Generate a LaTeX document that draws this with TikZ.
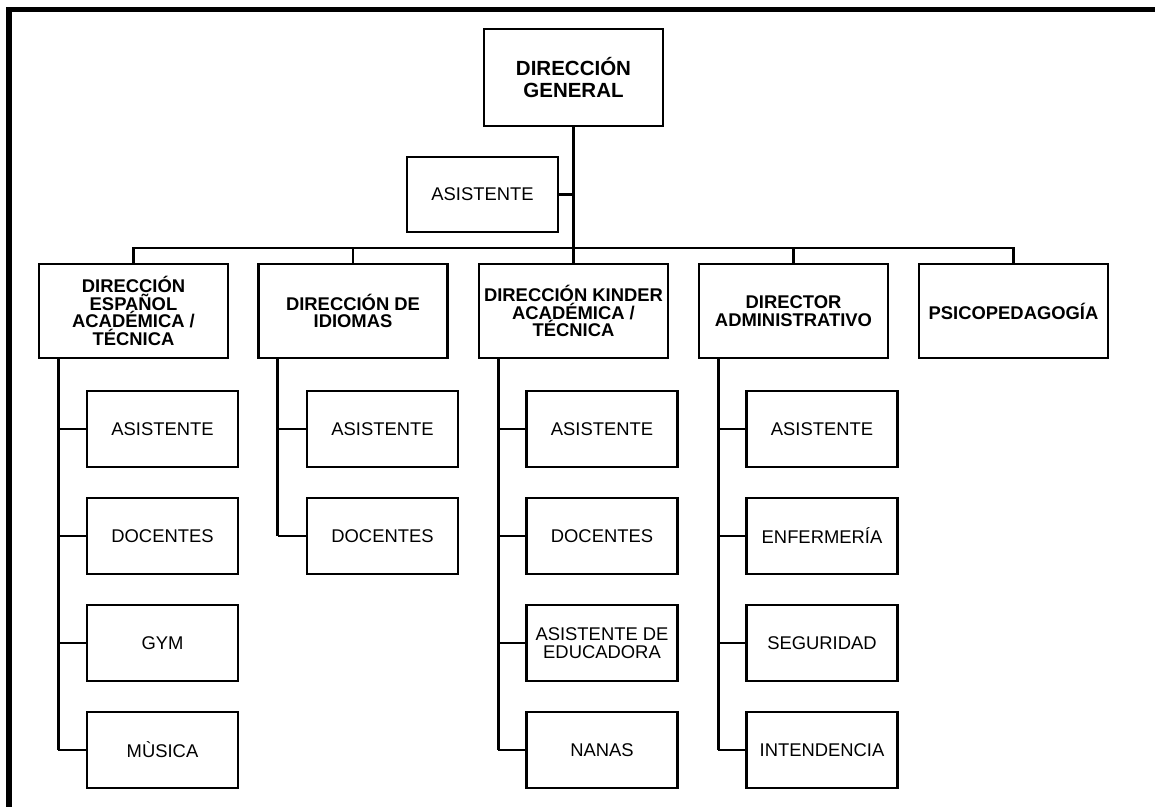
\documentclass[tikz,border=0pt]{standalone}
\usepackage{fontspec}
\setmainfont{Liberation Sans}
\usetikzlibrary{calc}

\tikzset{
  box/.style={draw, line width=2.6pt, inner sep=0pt, outer sep=0pt, align=center},
  topbox/.style={box, minimum width=179pt, minimum height=97pt,
    font=\fontsize{20.5}{21.7}\selectfont\bfseries},
  headbox/.style={box, minimum width=189pt, minimum height=94pt,
    font=\fontsize{18.4}{17.8}\selectfont\bfseries},
  unitbox/.style={box, minimum width=151pt, minimum height=76pt,
    font=\fontsize{18.4}{18.3}\selectfont},
  link/.style={line width=2.4pt},
  spine/.style={line width=3pt},
  frame/.style={line width=5.5pt}
}

\begin{document}
\begin{tikzpicture}[x=1pt, y=-1pt]
\useasboundingbox (0,0) rectangle (1155,806);

% outer frame, only its top and left sides fall on the page
\begin{scope}
  \clip (0,0) rectangle (1155,806);
  \draw[frame] (9,830) -- (9,9.5) -- (1180,9.5);
\end{scope}

% top level
\node[topbox] (dg) at (573.5,77.5) {DIRECCIÓN\\GENERAL};
\node[unitbox, minimum height=75pt] (asis) at (482.5,194.5) {ASISTENTE};

% department heads
\node[headbox] (esp) at (133.5,311) {DIRECCIÓN\\ESPAÑOL\\ACADÉMICA /\\TÉCNICA};
\node[headbox] (idi) at (353,311) {DIRECCIÓN DE\\IDIOMAS};
\node[headbox] (kin) at (573.5,311) {DIRECCIÓN KINDER\\ACADÉMICA /\\TÉCNICA};
\node[headbox] (adm) at (793.5,311) {DIRECTOR\\ADMINISTRATIVO};
\node[headbox] (psi) at (1013.5,311) {PSICOPEDAGOGÍA};

% staff under each head
\node[unitbox] (e1) at (162.5,429) {ASISTENTE};
\node[unitbox] (e2) at (162.5,536) {DOCENTES};
\node[unitbox] (e3) at (162.5,643) {GYM};
\node[unitbox] (e4) at (162.5,750) {MÙSICA};

\node[unitbox] (i1) at (382.5,429) {ASISTENTE};
\node[unitbox] (i2) at (382.5,536) {DOCENTES};

\node[unitbox] (k1) at (602,429) {ASISTENTE};
\node[unitbox] (k2) at (602,536) {DOCENTES};
\node[unitbox] (k3) at (602,643) {ASISTENTE DE\\EDUCADORA};
\node[unitbox] (k4) at (602,750) {NANAS};

\node[unitbox] (a1) at (822,429) {ASISTENTE};
\node[unitbox] (a2) at (822,536) {ENFERMERÍA};
\node[unitbox] (a3) at (822,643) {SEGURIDAD};
\node[unitbox] (a4) at (822,750) {INTENDENCIA};

% top-level connectors
\coordinate (bus) at (573.5,248);
\draw[spine] (dg.south) -- (kin.north);
\draw[link] (asis.east) -- (asis.east -| dg.south);
\draw[link] (esp.north) |- (bus) -| (psi.north);
\draw[link] (idi.north) -- (idi.north |- bus);
\draw[link] (adm.north) -- (adm.north |- bus);

% vertical spines below the heads
\coordinate (es) at ($(esp.south west)+(19,0)$);
\coordinate (is) at ($(idi.south west)+(19,0)$);
\coordinate (ks) at ($(kin.south west)+(19,0)$);
\coordinate (as) at ($(adm.south west)+(19,0)$);

\draw[spine] (es) -- (es |- e4.west);
\draw[spine] (is) -- (is |- i2.west);
\draw[spine] (ks) -- (ks |- k4.west);
\draw[spine] (as) -- (as |- a4.west);

\foreach \n in {e1,e2,e3,e4} \draw[link] (es |- \n.west) -- (\n.west);
\foreach \n in {i1,i2} \draw[link] (is |- \n.west) -- (\n.west);
\foreach \n in {k1,k2,k3,k4} \draw[link] (ks |- \n.west) -- (\n.west);
\foreach \n in {a1,a2,a3,a4} \draw[link] (as |- \n.west) -- (\n.west);
\end{tikzpicture}
\end{document}
